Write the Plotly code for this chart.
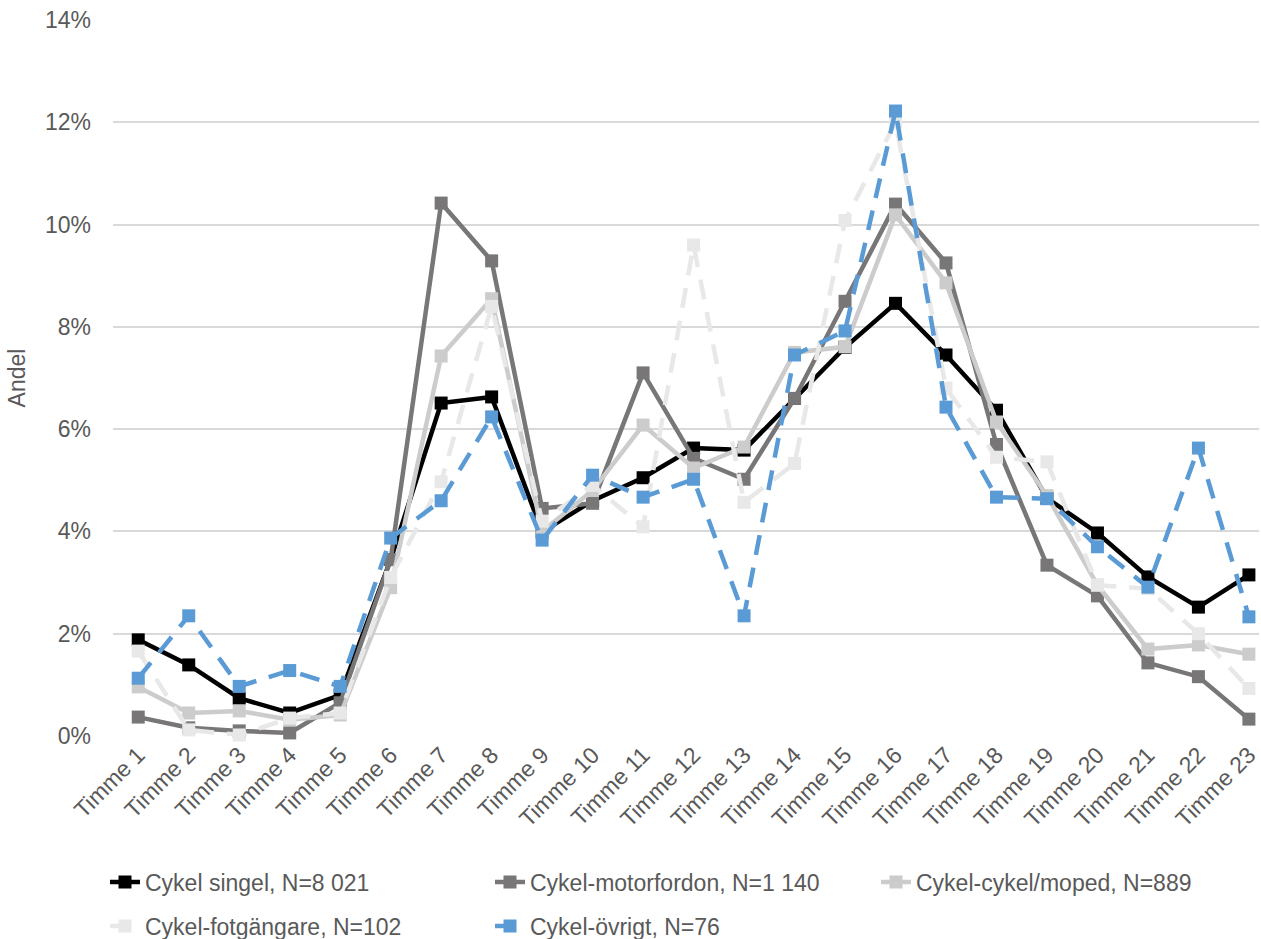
"""Andel olyckor per timme, per olyckstyp (cykel)."""

import plotly.graph_objects as go

hours = [f"Timme {i}" for i in range(1, 24)]

cykel_singel = [1.88, 1.39, 0.74, 0.45, 0.80, 3.45, 6.51, 6.63, 3.99, 4.60,
                5.05, 5.63, 5.59, 6.60, 7.60, 8.46, 7.45, 6.37, 4.65, 3.97,
                3.11, 2.52, 3.15]
cykel_motorfordon = [0.37, 0.16, 0.10, 0.06, 0.65, 3.45, 10.42, 9.29, 4.45, 4.55,
                     7.10, 5.43, 5.02, 6.60, 8.50, 10.40, 9.25, 5.70, 3.34, 2.74,
                     1.43, 1.16, 0.33]
cykel_moped = [0.96, 0.45, 0.49, 0.32, 0.41, 2.90, 7.43, 8.55, 4.00, 4.80,
               6.08, 5.24, 5.65, 7.50, 7.61, 10.19, 8.86, 6.14, 4.70, 2.95,
               1.70, 1.78, 1.60]
cykel_fotgangare = [1.66, 0.12, 0.02, 0.35, 0.45, 3.10, 4.97, 8.40, 4.20, 4.90,
                    4.09, 9.60, 4.57, 5.33, 10.08, 12.00, 6.80, 5.45, 5.36, 2.95,
                    2.88, 2.00, 0.93]
cykel_ovrigt = [1.13, 2.35, 0.97, 1.28, 0.97, 3.87, 4.60, 6.24, 3.83, 5.10,
                4.67, 5.02, 2.35, 7.45, 7.92, 12.22, 6.43, 4.67, 4.64, 3.70,
                2.91, 5.63, 2.33]

# name, values, colour, dash, legend
series = [
    ("Cykel singel, N=8 021", cykel_singel, "#000000", "solid", "legend"),
    ("Cykel-motorfordon, N=1 140", cykel_motorfordon, "#787676", "solid", "legend"),
    ("Cykel-cykel/moped, N=889", cykel_moped, "#cccccc", "solid", "legend3"),
    ("Cykel-fotgängare, N=102", cykel_fotgangare, "#e8e8e8", "20px,13px", "legend2"),
    ("Cykel-övrigt, N=76", cykel_ovrigt, "#5b9bd5", "20px,13px", "legend2"),
]

FONT = "Liberation Sans, Arial, sans-serif"

fig = go.Figure()
for name, values, color, dash, leg in series:
    fig.add_trace(go.Scatter(
        x=hours,
        y=values,
        name=name,
        mode="lines+markers",
        line=dict(color=color, width=4.5, dash=dash),
        marker=dict(symbol="square", size=13, color=color),
        cliponaxis=False,
        legend=leg,
    ))

legend_style = dict(
    orientation="h",
    xref="container",
    yref="container",
    xanchor="left",
    yanchor="middle",
    entrywidth=340,
    entrywidthmode="pixels",
    itemwidth=30,
    font=dict(family=FONT, size=23, color="#595959"),
    bgcolor="rgba(0,0,0,0)",
    traceorder="normal",
)

row1 = 1 - 882 / 939
row2 = 1 - 926 / 939

fig.update_layout(
    width=1261,
    height=939,
    paper_bgcolor="white",
    plot_bgcolor="white",
    font=dict(family=FONT, size=23, color="#595959"),
    margin=dict(l=113, r=0, t=20, b=203),
    xaxis=dict(
        type="category",
        range=[-0.5, 22.2],
        tickangle=-45,
        showgrid=False,
        showline=False,
        zeroline=False,
        ticks="",
        tickfont=dict(family=FONT, size=23, color="#595959"),
    ),
    yaxis=dict(
        range=[0, 14],
        dtick=2,
        ticksuffix="%",
        showgrid=True,
        gridcolor="#d9d9d9",
        gridwidth=1.5,
        zeroline=False,
        showline=False,
        ticks="",
        ticklabelstandoff=21,
        tickfont=dict(family=FONT, size=23, color="#595959"),
        title=dict(text="Andel", standoff=12,
                   font=dict(family=FONT, size=23, color="#595959")),
    ),
    legend=dict(x=105 / 1261, y=row1, **legend_style),
    legend3=dict(x=876 / 1261, y=row1, **legend_style),
    legend2=dict(x=105 / 1261, y=row2, **legend_style),
)

fig.write_html(
    "out.html",
    config={"displayModeBar": False},
    post_script="document.body.style.margin='0';",
)
